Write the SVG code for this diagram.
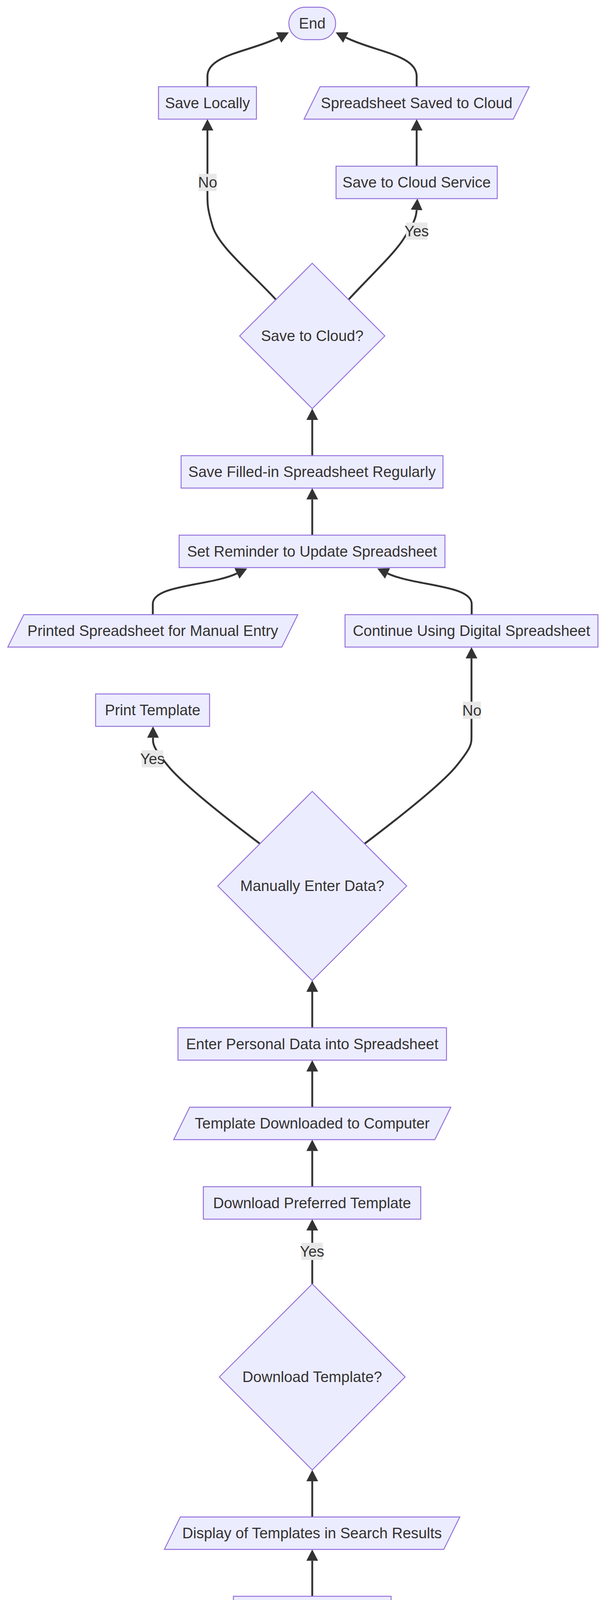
<svg xmlns="http://www.w3.org/2000/svg" width="1568" height="4438" viewBox="0 0 1568 4438">
<defs>
<marker id="arrow" viewBox="0 0 29 30" refX="0" refY="15" markerWidth="29" markerHeight="30" markerUnits="userSpaceOnUse" orient="auto">
<path d="M0,0 L29,15 L0,30 z" fill="#333333"/>
</marker>
<style>
.node rect, .node polygon { fill: #ECECFF; stroke: #9370DB; stroke-width: 2.4; }
text { font-family: "Liberation Sans", Arial, sans-serif; font-size: 38.4px; fill: #333333; text-anchor: middle; }
.edge { fill: none; stroke: #333333; stroke-width: 4.8; marker-end: url(#arrow); }
.lbl rect { fill: #e8e8e8; }
.lbl text { font-family: "Liberation Sans Narrow", "Liberation Sans", Arial, sans-serif; }
</style>
</defs>
<rect width="1568" height="4438" fill="#ffffff"/>
<g id="connectors">
<path class="edge" d="M 800 4290.5 L 800 4198.5"/>
<path class="edge" d="M 800 4086.5 L 800 3995.5"/>
<path class="edge" d="M 800 3883.5 L 800 3792"/>
<path class="edge" d="M 800 3287 L 800 3150"/>
<path class="edge" d="M 800 3038 L 800 2946.5"/>
<path class="edge" d="M 800 2834.5 L 800 2743"/>
<path class="edge" d="M 800 2631 L 800 2539"/>
<path class="edge" d="M 666 2160 C 600 2110, 470 2010, 430 1960 S 392 1905, 392 1888.5"/>
<path class="edge" d="M 934 2160 C 1000 2110, 1130 2010, 1170 1960 S 1208 1905, 1208 1880 L 1208 1685.5"/>
<path class="edge" d="M 391.5 1573.5 L 391.5 1546 C 391.5 1497, 540 1500, 607 1468"/>
<path class="edge" d="M 1208.5 1573.5 L 1208.5 1546 C 1208.5 1497, 1060 1500, 993 1468"/>
<path class="edge" d="M 800 1370 L 800 1278.5"/>
<path class="edge" d="M 800 1166.5 L 800 1075"/>
<path class="edge" d="M 707 767 C 640 695, 560 630, 545 580 S 531.5 520, 531.5 489 L 531.5 334"/>
<path class="edge" d="M 893 767 C 950 705, 1010 650, 1035 610 S 1066 560, 1067.5 537.5"/>
<path class="edge" d="M 1067.5 425.5 L 1067.5 334"/>
<path class="edge" d="M 531.5 222 L 531.5 195 C 531.5 140, 642 132, 714 96"/>
<path class="edge" d="M 1067.5 222 L 1067.5 195 C 1067.5 140, 958 132, 886 96"/>
</g>
<g id="edge-labels">
<g class="lbl" id="label-no-local"><rect x="509" y="445" width="46" height="44"/><text x="532" y="480.3">No</text></g>
<g class="lbl" id="label-yes-cloud"><rect x="1040" y="569.6" width="55" height="44"/><text x="1067.5" y="604.9">Yes</text></g>
<g class="lbl" id="label-yes-print"><rect x="363" y="1920.5" width="55" height="44"/><text x="390.5" y="1955.8">Yes</text></g>
<g class="lbl" id="label-no-digital"><rect x="1186" y="1796.3" width="46" height="44"/><text x="1209" y="1831.6">No</text></g>
<g class="lbl" id="label-yes-download"><rect x="772" y="3181.6" width="55" height="44"/><text x="799.5" y="3216.9">Yes</text></g>
</g>
<g id="node-end" class="node"><rect x="740" y="18.5" width="120" height="83" rx="41.5" ry="41.5"/><text x="800" y="73.3">End</text></g>
<g id="node-save-locally" class="node"><rect x="406" y="222" width="251" height="83"/><text x="531.5" y="276.8">Save Locally</text></g>
<g id="node-spreadsheet-saved" class="node"><polygon points="820,222 1356,222 1315,305 779,305"/><text x="1067.5" y="276.8">Spreadsheet Saved to Cloud</text></g>
<g id="node-save-cloud-service" class="node"><rect x="861" y="425.5" width="413" height="83"/><text x="1067.5" y="480.3">Save to Cloud Service</text></g>
<g id="node-save-to-cloud" class="node"><polygon points="800,674 986,860 800,1046 614,860"/><text x="800" y="873.3">Save to Cloud?</text></g>
<g id="node-save-filled" class="node"><rect x="464" y="1166.5" width="671" height="83"/><text x="799.5" y="1221.3">Save Filled-in Spreadsheet Regularly</text></g>
<g id="node-set-reminder" class="node"><rect x="459" y="1370" width="681" height="83"/><text x="799.5" y="1424.8">Set Reminder to Update Spreadsheet</text></g>
<g id="node-printed" class="node"><polygon points="61,1573.5 763,1573.5 722,1656.5 20,1656.5"/><text x="391.5" y="1628.3">Printed Spreadsheet for Manual Entry</text></g>
<g id="node-continue" class="node"><rect x="884" y="1573.5" width="648" height="83"/><text x="1208" y="1628.3">Continue Using Digital Spreadsheet</text></g>
<g id="node-print-template" class="node"><rect x="245" y="1776.5" width="292" height="83"/><text x="391" y="1831.3">Print Template</text></g>
<g id="node-manual" class="node"><polygon points="800,2026 1042,2268 800,2510 558,2268"/><text x="800" y="2281.3">Manually Enter Data?</text></g>
<g id="node-enter" class="node"><rect x="456" y="2631" width="688" height="83"/><text x="800" y="2685.8">Enter Personal Data into Spreadsheet</text></g>
<g id="node-template-downloaded" class="node"><polygon points="486,2834.5 1155,2834.5 1114,2917.5 445,2917.5"/><text x="800" y="2889.3">Template Downloaded to Computer</text></g>
<g id="node-download-preferred" class="node"><rect x="521" y="3038" width="557" height="83"/><text x="799.5" y="3092.8">Download Preferred Template</text></g>
<g id="node-download-template" class="node"><polygon points="800,3287 1038,3525 800,3763 562,3525"/><text x="800" y="3538.3">Download Template?</text></g>
<g id="node-display" class="node"><polygon points="462,3883.5 1178,3883.5 1137,3966.5 421,3966.5"/><text x="799.5" y="3938.3">Display of Templates in Search Results</text></g>
<g id="node-search" class="node"><rect x="598" y="4086.5" width="404" height="83"/><text x="800" y="4141.3">Search for Templates</text></g>
<g id="node-start" class="node"><rect x="729" y="4290.5" width="141" height="83" rx="41.5" ry="41.5"/><text x="799.5" y="4345.3">Start</text></g>
</svg>
